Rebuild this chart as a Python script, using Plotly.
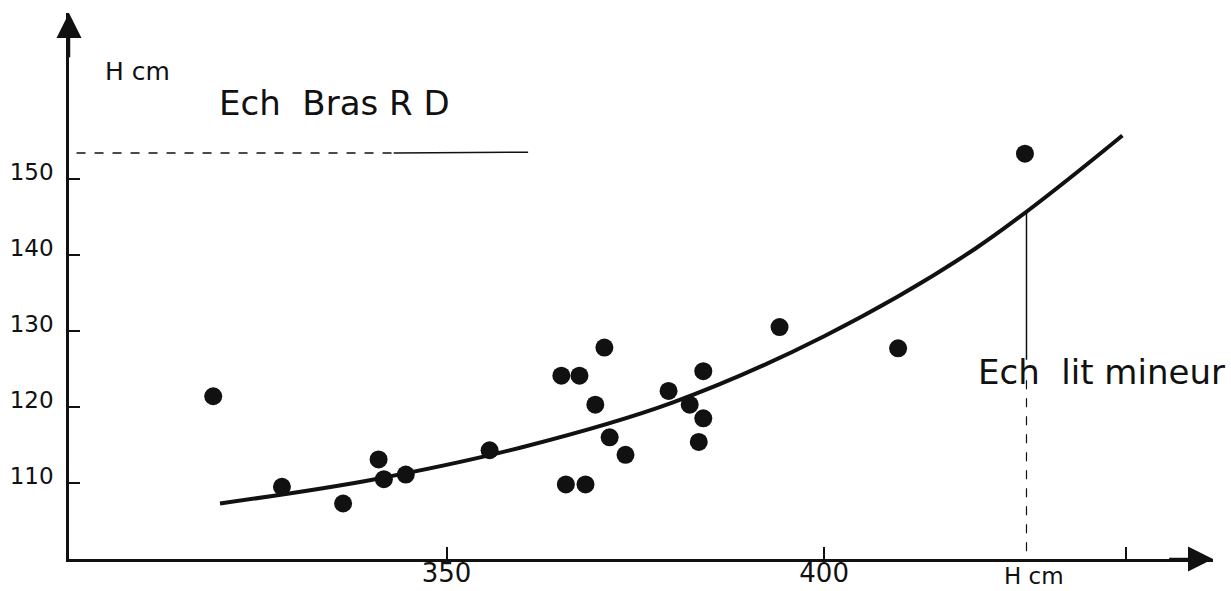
import plotly.graph_objects as go

# Measured pairs (H cm on both axes)
x_points = [319.1, 328.2, 336.3, 341.0, 341.7, 344.6, 355.7,
            365.2, 365.8, 367.6, 368.4, 369.7, 370.9, 371.6, 373.7,
            379.4, 382.2, 383.4, 384.0, 384.0,
            394.1, 409.8, 426.6]
y_points = [121.4, 109.5, 107.3, 113.1, 110.5, 111.1, 114.3,
            124.1, 109.8, 124.1, 109.8, 120.3, 127.8, 116.0, 113.7,
            122.1, 120.3, 115.4, 118.5, 124.7,
            130.5, 127.7, 153.3]

# Fitted relation drawn through the cloud
curve_x = [320.0, 340.0, 360.0, 380.0, 400.0, 420.0, 439.5]
curve_y = [107.3, 110.4, 114.7, 120.6, 129.3, 140.8, 155.7]

# Reading of the "lit mineur" scale at the curve
read_x = 426.8
read_y = 145.6

# "Bras RD" reference level
bras_level = 153.4
bras_x_end = 360.8

x_ticks = [350, 400, 440]
x_tick_text = ["350", "400", ""]
y_ticks = [110, 120, 130, 140, 150]
y_tick_text = ["110", "120", "130", "140", "150"]

x_range = [300, 451.5]
y_range = [100, 171.8]

FONT = "DejaVu Sans"
INK = "#111111"

fig = go.Figure()

fig.add_trace(go.Scatter(
    x=curve_x, y=curve_y, mode="lines",
    line=dict(color=INK, width=4, shape="spline", smoothing=1.0),
    hoverinfo="skip", showlegend=False,
))

fig.add_trace(go.Scatter(
    x=x_points, y=y_points, mode="markers",
    marker=dict(color=INK, size=18, line=dict(width=0)),
    showlegend=False,
))

shapes = [
    # dashed then solid reference level
    dict(type="line", xref="x", yref="y", x0=301, x1=343, y0=bras_level, y1=bras_level,
         line=dict(color=INK, width=1.5, dash="dash")),
    dict(type="line", xref="x", yref="y", x0=343, x1=bras_x_end, y0=bras_level, y1=bras_level + 0.1,
         line=dict(color=INK, width=1.5)),
    # vertical reading line from the curve down to the axis
    dict(type="line", xref="x", yref="y", x0=read_x, x1=read_x, y0=read_y, y1=126.2,
         line=dict(color=INK, width=1.5)),
    dict(type="line", xref="x", yref="y", x0=read_x, x1=read_x, y0=123.5, y1=100.5,
         line=dict(color=INK, width=1.2, dash="dash")),
]

annotations = [
    # axis arrowheads
    dict(x=x_range[1], y=y_range[0], ax=x_range[1] - 6, ay=y_range[0],
         xref="x", yref="y", axref="x", ayref="y", text="", showarrow=True,
         arrowhead=2, arrowsize=2, arrowwidth=2.5, arrowcolor=INK),
    dict(x=x_range[0], y=y_range[1], ax=x_range[0], ay=y_range[1] - 6,
         xref="x", yref="y", axref="x", ayref="y", text="", showarrow=True,
         arrowhead=2, arrowsize=2, arrowwidth=2.5, arrowcolor=INK),
    # titles and labels
    dict(x=309.1, y=164.1, xref="x", yref="y", text="H cm", showarrow=False,
         font=dict(family=FONT, size=25, color=INK), xanchor="center", yanchor="middle"),
    dict(x=335.2, y=159.9, xref="x", yref="y", text="Ech  Bras R D", showarrow=False,
         font=dict(family=FONT, size=34, color=INK), xanchor="center", yanchor="middle"),
    dict(x=436.7, y=124.6, xref="x", yref="y", text="Ech\u00a0 lit mineur", showarrow=False,
         font=dict(family=FONT, size=34, color=INK), xanchor="center", yanchor="middle"),
    dict(x=427.8, y=100, xref="x", yref="y", yshift=-17, text="H cm", showarrow=False,
         font=dict(family=FONT, size=23, color=INK), xanchor="center", yanchor="middle"),
]

fig.update_layout(
    width=1231, height=591,
    margin=dict(l=69, r=18, t=13, b=32, autoexpand=False),
    paper_bgcolor="white", plot_bgcolor="white",
    shapes=shapes, annotations=annotations,
    showlegend=False,
    font=dict(family=FONT, color=INK),
)

fig.update_xaxes(
    range=x_range, showgrid=False, zeroline=False, automargin=False,
    showline=True, linecolor=INK, linewidth=2.5,
    tickmode="array", tickvals=x_ticks, ticktext=x_tick_text,
    ticks="inside", ticklen=12, tickwidth=2, tickcolor=INK,
    tickfont=dict(family=FONT, size=26, color=INK),
    ticklabelstandoff=-11,
)
fig.update_yaxes(
    range=y_range, showgrid=False, zeroline=False, automargin=False,
    showline=True, linecolor=INK, linewidth=2.5,
    tickmode="array", tickvals=y_ticks, ticktext=y_tick_text,
    ticks="inside", ticklen=11, tickwidth=2, tickcolor=INK,
    tickfont=dict(family=FONT, size=23, color=INK),
    ticklabelstandoff=8, ticklabelshift=-7,
)

fig.write_html("out.html")
